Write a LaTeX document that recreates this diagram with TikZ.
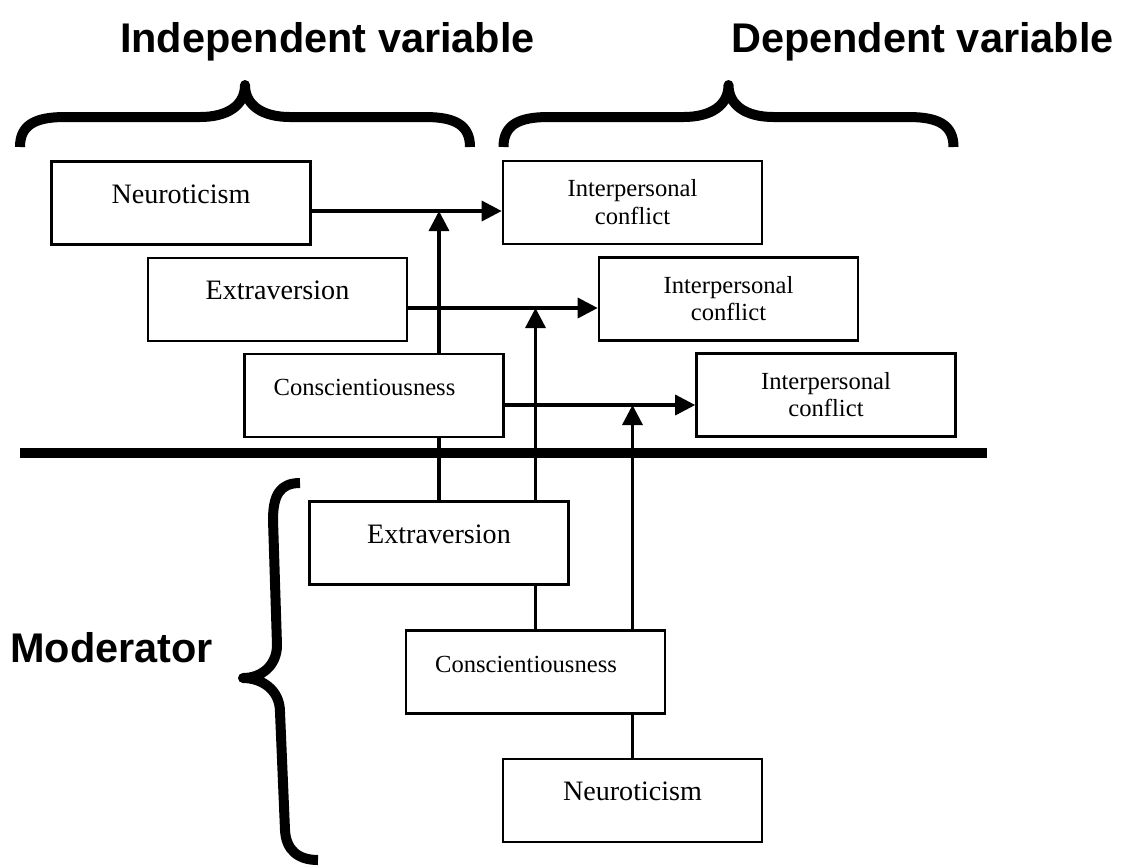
\documentclass[tikz,border=0pt]{standalone}
\usepackage{fontspec}
\setmainfont{Liberation Serif}
\newfontfamily\headfont{Liberation Sans}
\usetikzlibrary{arrows.meta,backgrounds}
\begin{document}
\begin{tikzpicture}[x=0.02cm,y=-0.02cm,
  box/.style={draw, fill=white, line width=1.5pt, minimum width=5.18cm, minimum height=1.66cm,
    inner sep=0pt, text height=0.4cm, text depth=0.4cm, font=\fontsize{16}{19}\selectfont},
  cfont/.style={font=\fontsize{14}{17}\selectfont},
  icbox/.style={box, text height=0.3cm, text depth=0.54cm, font=\fontsize{14}{15.9}\selectfont},
  conn/.style={line width=1.9pt, -{Triangle[length=0.4cm,width=0.4cm]}},
  plain/.style={line width=1.9pt},
  head/.style={font=\headfont\bfseries\fontsize{23.6}{28}\selectfont, anchor=base, inner sep=0pt},
  bracestyle/.style={line width=0.2cm, line cap=butt, line join=round},
  hbrace/.pic={\draw[bracestyle] (-225,62) .. controls (-225,40) and (-210,32) .. (-180,32) -- (-45,32)
     .. controls (-17,32) and (0,20) .. (0,0) .. controls (0,20) and (17,32) .. (45,32) -- (180,32)
     .. controls (210,32) and (225,40) .. (225,62);}
]
\useasboundingbox (0,0) rectangle (1125,867);

% headings
\node[head] (iv) at (327.5,52) {Independent variable};
\node[head] (dv) at (922.5,52) {Dependent variable};
\node[head] (mo) at (111.5,662) {Moderator};

% braces
\pic at (245,85) {hbrace};
\pic at (728.5,85) {hbrace};
\draw[bracestyle] (300,483) .. controls (280,483) and (273,495) .. (273,520) -- (277,645)
   .. controls (277,665) and (262,678) .. (243,678) .. controls (262,678) and (280,690) .. (280,712)
   -- (285,830) .. controls (286,850) and (298,860) .. (318,860);

% separator
\draw[line width=0.2cm] (20,453) -- (987,453);

% independent variables
\node[box] (n1) at (181,203) {Neuroticism};
\node[box] (x1) at (277.5,299.5) {Extraversion};
\node[box, cfont] (c1) at (374,395.5) {Conscientiousness\hspace*{0.38cm}};

% dependent variables
\node[icbox] (ic1) at (632.5,202.5) {\begin{tabular}[t]{@{}c@{}}Interpersonal\\conflict\end{tabular}};
\node[icbox] (ic2) at (728.5,299) {\begin{tabular}[t]{@{}c@{}}Interpersonal\\conflict\end{tabular}};
\node[icbox] (ic3) at (826,395) {\begin{tabular}[t]{@{}c@{}}Interpersonal\\conflict\end{tabular}};

% moderators
\node[box] (em) at (439,543) {Extraversion};
\node[box, cfont] (cm) at (535.5,672) {Conscientiousness\hspace*{0.38cm}};
\node[box] (nm) at (632.5,800.5) {Neuroticism};

\coordinate (h1) at (0,211);
\coordinate (h2) at (0,308);
\coordinate (h3) at (0,405);

\begin{scope}[on background layer]
\draw[conn] (n1.east |- h1) -- (ic1.west |- h1);
\draw[conn] (x1.east |- h2) -- (ic2.west |- h2);
\draw[conn] (c1.east |- h3) -- (ic3.west |- h3);
\draw[conn] (em.north) -- (em.north |- h1);
\draw[conn] (cm.north) -- (cm.north |- h2);
\draw[conn] (nm.north) -- (nm.north |- h3);
\end{scope}
\end{tikzpicture}
\end{document}
